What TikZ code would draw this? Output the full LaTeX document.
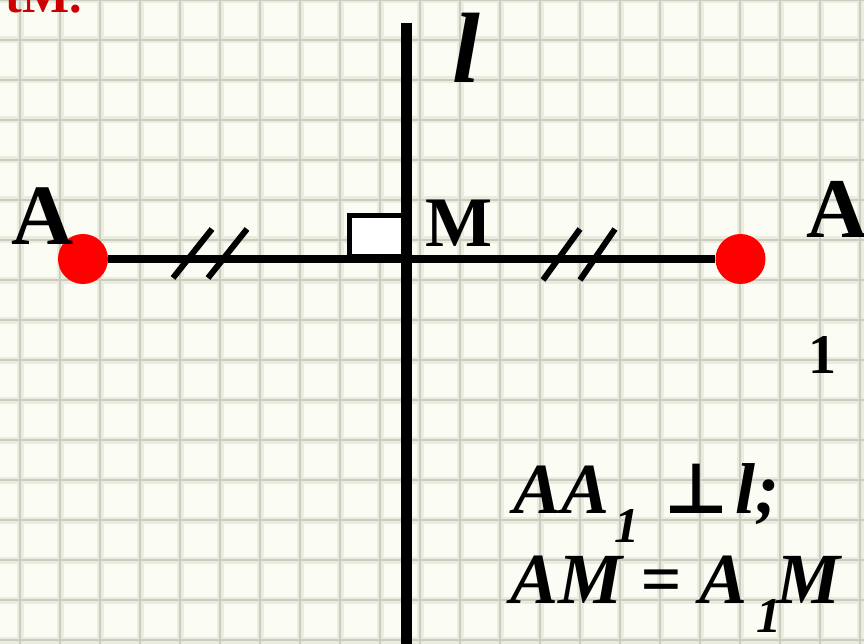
\documentclass[tikz,border=0pt]{standalone}
\usepackage{fontspec}
\setmainfont{Liberation Serif}
\newfontfamily\perpfont{DejaVu Sans}
\definecolor{paper}{RGB}{251,252,243}
\definecolor{gridline}{RGB}{202,205,190}
\definecolor{gridband}{RGB}{234,236,224}
\definecolor{ptred}{RGB}{255,0,0}
\definecolor{titlered}{RGB}{204,0,0}
\newcommand{\sz}[1]{\fontsize{#1}{#1}\selectfont}

\begin{document}
\begin{tikzpicture}[x=1pt, y=-1pt,
    lbl/.style={inner sep=0pt, anchor=base west},
    pt/.style={circle, fill=ptred, minimum size=50pt, inner sep=0pt},
    tick/.style={line width=6pt}]
    % paper
    \useasboundingbox (0,0) rectangle (864,644);
    \clip (0,0) rectangle (864,644);
    \fill[paper] (0,0) rectangle (864,644);
    \foreach \x in {20,60,...,860}
        \draw[gridband, line width=7pt] (\x,0) -- (\x,644);
    \foreach \y in {0,40,...,640}
        \draw[gridband, line width=7pt] (0,\y) -- (864,\y);
    \foreach \x in {20,60,...,860}
        \draw[gridline, line width=2pt] (\x,0) -- (\x,644);
    \foreach \y in {0,40,...,640}
        \draw[gridline, line width=2pt] (0,\y) -- (864,\y);

    % line l
    \coordinate (ltop) at (406,23);
    \coordinate (lbot) at (406,650);
    \coordinate (M) at (406,259);

    % points and segment
    \node[pt] (A) at (83,259) {};
    \node[pt] (A1) at (740.5,259) {};
    \draw[line width=8pt] (A) -- (A1);
    \draw[line width=11pt] (ltop) -- (lbot);

    % right angle
    \draw[line width=5pt, fill=white] ([shift={(-57,-43)}]M) rectangle ([shift={(-3,-2)}]M);

    % equal marks
    \draw[tick] (173,278) -- (212,229);
    \draw[tick] (208,278) -- (247,229);
    \draw[tick] (543,280) -- (580,229);
    \draw[tick] (580,280) -- (615,229);

    % labels
    \node[lbl, font=\sz{86}\bfseries] (labA) at (11,244) {A};
    \node[lbl, font=\sz{85}\bfseries] (labA1) at (806,238) {A};
    \node[lbl, font=\sz{56}\bfseries] (labone) at (808,373) {1};
    \node[lbl, font=\sz{71}\bfseries] (labM) at (425,247) {M};
    \node[lbl, font=\sz{100}\bfseries\itshape] (labl) at (452,83) {l};
    \node[inner sep=0pt, anchor=base east, text=titlered, font=\sz{50}\bfseries] (title) at (82,13) {tM.};

    % formulas
    \node[lbl, font=\sz{72}\bfseries\itshape] (fAA) at (513,513) {AA};
    \node[lbl, font=\sz{50}\bfseries\itshape] (fsub) at (614,542) {1};
    \node[lbl, font=\sz{70}\perpfont\bfseries] (fperp) at (664,513) {⊥};
    \node[lbl, font=\sz{72}\bfseries\itshape] (fl) at (735,513) {l;};
    \node[lbl, font=\sz{72}\bfseries\itshape] (fAM) at (510,603) {AM = A};
    \node[lbl, font=\sz{50}\bfseries\itshape] (fsubb) at (756,632) {1};
    \node[lbl, font=\sz{72}\bfseries\itshape] (fM) at (776,603) {M};
\end{tikzpicture}
\end{document}
